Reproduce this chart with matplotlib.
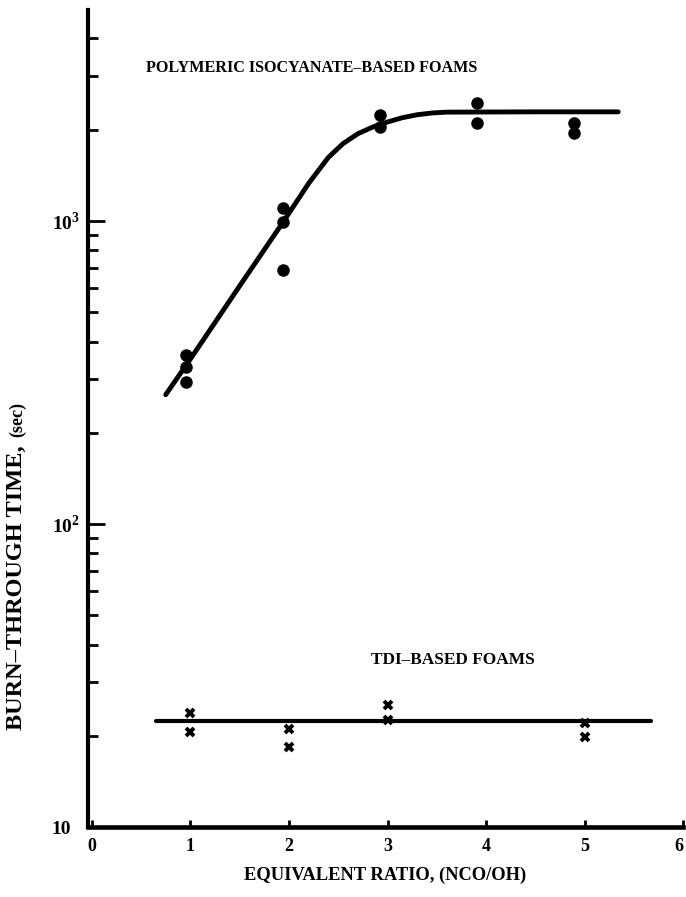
import numpy as np
import matplotlib
matplotlib.use("Agg")
import matplotlib.pyplot as plt
from matplotlib.ticker import FixedLocator, FixedFormatter, LogLocator, NullFormatter

plt.rcParams['font.family'] = ['Liberation Serif', 'DejaVu Serif']
plt.rcParams['font.weight'] = 'bold'
plt.rcParams['mathtext.fontset'] = 'custom'
plt.rcParams['mathtext.rm'] = 'Liberation Serif:bold'
plt.rcParams['mathtext.bf'] = 'Liberation Serif:bold'

# polymeric isocyanate-based foams (measured points)
poly_x = [0.96, 0.96, 0.96, 1.94, 1.94, 1.94, 2.92, 2.92, 3.91, 3.91, 4.89, 4.89]
poly_y = [361, 330, 294, 1104, 990, 689, 2240, 2046, 2455, 2110, 2105, 1950]

# hand drawn curve through polymeric points
curve_x = [0.75, 1.0, 1.5, 1.94, 2.2, 2.4, 2.55, 2.7, 2.85, 3.0, 3.15, 3.3, 3.45, 3.6, 4.5, 5.34]
curve_y = [267, 350, 610, 990, 1330, 1620, 1800, 1940, 2040, 2120, 2190, 2240, 2270, 2285, 2290, 2290]

# TDI-based foams
tdi_x = [1, 1, 2, 2, 3, 3, 5, 5]
tdi_y = [23.7, 20.6, 21.1, 18.4, 25.3, 22.5, 22.0, 19.8]
tdi_line_x = [0.65, 5.67]
tdi_line_y = [22.4, 22.4]

xticks = [0, 1, 2, 3, 4, 5, 6]
yticks = [10, 100, 1000]
ylabels = ['10', r'$10^{2}$', r'$10^{3}$']

fig = plt.figure(figsize=(6.86, 8.97), dpi=100)
ax = fig.add_axes([0.128, 0.078, 0.868, 0.911])

ax.plot(curve_x, curve_y, color='black', lw=3.5, solid_capstyle='round', solid_joinstyle='round')
ax.plot(poly_x, poly_y, 'o', color='black', ms=8)

ax.plot(tdi_line_x, tdi_line_y, color='black', lw=3, solid_capstyle='round')
ax.plot(tdi_x, tdi_y, 'x', color='black', ms=6, mew=2.8)

ax.set_yscale('log')
ax.set_xlim(-0.04, 6.0)
ax.set_ylim(10, 4970)

ax.yaxis.set_major_locator(FixedLocator(yticks))
ax.yaxis.set_major_formatter(FixedFormatter(ylabels))
ax.yaxis.set_minor_locator(LogLocator(base=10, subs=np.arange(2, 10)))
ax.yaxis.set_minor_formatter(NullFormatter())
ax.set_xticks(xticks)
ax.set_xticklabels([str(t) for t in xticks])

ax.tick_params(axis='y', which='major', direction='in', length=12, width=2, labelsize=14, pad=26)
ax.tick_params(axis='y', which='minor', direction='in', length=7, width=2)
ax.tick_params(axis='x', which='major', direction='in', length=5, width=2, labelsize=13, pad=8)
for lab in ax.get_yticklabels():
    lab.set_horizontalalignment('left')
ax.get_xticklabels()[-1].set_horizontalalignment('right')

for s in ['top', 'right']:
    ax.spines[s].set_visible(False)
ax.spines['left'].set_linewidth(3)
ax.spines['bottom'].set_linewidth(3.3)

ax.text(2.23, 3200, 'POLYMERIC ISOCYANATE–BASED FOAMS', ha='center', va='center', fontsize=11.6, fontweight='bold')
ax.text(3.66, 35.6, 'TDI–BASED FOAMS', ha='center', va='center', fontsize=12.4, fontweight='bold')

ax.set_xlabel('EQUIVALENT RATIO, (NCO/OH)', fontsize=13.3, fontweight='bold', labelpad=8)

# y label in two sizes
fig.canvas.draw()
t1 = fig.text(0.024, 1 - 730 / 897, 'BURN–THROUGH TIME,', rotation=90, ha='center', va='bottom',
              fontsize=17.5, fontweight='bold')
fig.canvas.draw()
bb = t1.get_window_extent()
fig.text(0.026, (bb.y1 + 8) / fig.bbox.height, '(sec)', rotation=90, ha='center', va='bottom',
         fontsize=13, fontweight='bold')

fig.savefig('out.png', dpi=100)
